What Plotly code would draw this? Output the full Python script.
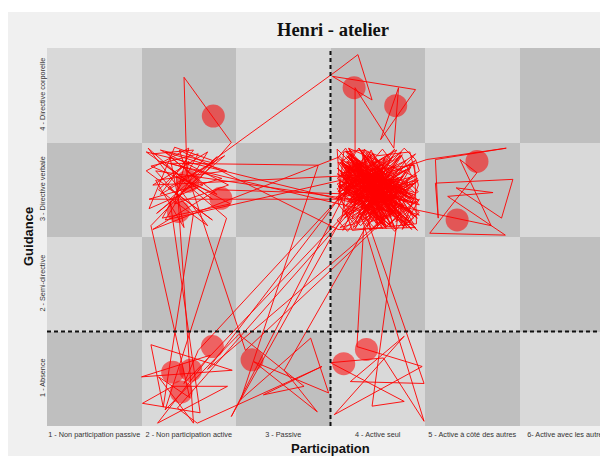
import plotly.graph_objects as go

# ---------------- data ----------------
x_labels = ["1 - Non participation passive", "2 - Non participation active", "3 - Passive",
            "4 - Active seul", "5 - Active à côté des autres", "6- Active avec les autres"]
y_labels = ["1 - Absence", "2 - Semi-directive", "3 - Directive verbale", "4 - Directive corporelle"]
x_vals = [1, 2, 3, 4, 5, 6]
y_vals = [1, 2, 3, 4]
board = [[1, 0, 1, 0, 1, 0],
         [0, 1, 0, 1, 0, 1],
         [1, 0, 1, 0, 1, 0],
         [0, 1, 0, 1, 0, 1]]

# trajectory segments (participation, guidance with jitter)
seg_a_x = [1.62,2.05,1.70,2.28,1.85,1.58,2.15,1.75,2.40,1.65,1.95,1.80,2.30,1.60,2.10,1.72,2.44,1.90,1.57,2.20,1.68,2.00]
seg_a_y = [3.38,3.42,2.95,3.30,3.45,2.80,3.05,3.40,3.20,3.10,2.60,3.35,2.95,3.25,3.38,2.70,2.85,3.15,3.44,2.62,3.00,3.30]
seg_b_x = [1.98,1.95,2.45,2.10]
seg_b_y = [3.20,4.19,3.50,3.10]
seg_a2_x = [1.66,2.38,1.78,2.25,1.55,2.00,1.85,2.42,1.70,2.23]
seg_a2_y = [2.75,3.36,3.02,2.68,3.20,3.44,2.85,3.05,3.42,3.29]
seg_c_x = [3.58,3.79,3.94,3.52,4.40,4.03,4.22,4.17,3.76,3.76]
seg_c_y = [4.27,4.43,3.95,4.20,4.06,3.53,4.08,3.44,4.08,3.40]
blob1_x = [3.62,4.10,3.75,4.38,3.90,3.58,4.22,3.81,4.05,3.67,4.31,3.95,3.60,4.18,3.72,4.41,3.86,4.02,3.64,4.27,
           3.79,4.12,3.57,3.98,4.35,3.70,4.08,3.84,4.43,3.66,3.93,4.20,3.61,4.00,3.77,4.29,3.88,4.15,3.59,4.37,
           3.73,4.06,3.83,4.24,3.63,3.96,4.40,3.69,4.11,3.80,4.33,3.91,3.65,4.19,3.76,4.03,3.58,4.26,3.87,4.13]
blob1_y = [3.30,2.85,3.12,2.64,3.40,2.98,3.22,2.70,3.05,3.36,2.60,3.18,2.90,3.43,2.77,3.08,2.66,3.27,2.95,3.14,
           2.72,3.38,3.01,2.58,3.24,2.88,3.33,2.68,3.10,2.93,3.42,2.80,3.17,2.62,3.29,2.99,3.35,2.74,3.06,2.86,
           3.20,2.63,3.39,2.96,3.13,2.75,3.31,2.89,3.02,3.44,2.69,3.15,2.82,3.26,2.59,3.09,2.92,3.37,2.78,3.19]
seg_e_x = [4.52,5.36,4.61,4.64,4.61,5.43,5.31,4.83,5.22,4.74,5.35,4.55,5.05,4.87,5.20]
seg_e_y = [3.32,3.44,3.32,2.70,3.07,3.11,2.70,3.02,2.97,2.93,2.52,2.54,3.18,3.32,2.62]
blob2_x = [3.68,4.36,3.94,3.71,4.21,3.82,4.44,3.60,4.07,3.89,4.30,3.74,4.16,3.63,3.99,4.39,3.78,4.09,3.66,4.25,
           3.85,4.01,3.57,4.34,3.92,3.70,4.17,3.80,4.42,3.61,4.04,3.87,4.28,3.69,3.97,4.14,3.75,4.32,3.62,4.08,
           3.90,4.23,3.67,4.40,3.79,4.02,3.59,4.19,3.86,4.35,3.72,4.11,3.64,3.95,4.27,3.81,4.06,3.58,4.38,3.93]
blob2_y = [2.94,3.28,2.67,3.11,2.84,3.41,2.73,3.03,3.34,2.61,3.21,2.87,3.07,2.57,3.32,2.97,3.16,2.71,3.25,3.00,
           3.37,2.79,3.23,2.65,3.04,3.43,2.83,3.12,2.70,3.30,2.91,3.18,2.60,3.35,2.99,2.76,3.27,2.88,3.09,2.66,
           3.14,2.97,3.40,2.72,3.19,2.85,3.06,2.58,3.33,2.94,3.22,2.68,3.11,3.38,2.81,3.02,2.62,3.29,2.90,3.16]
seg_f_x = [1.62,2.20,1.75,4.05,3.70,1.58,2.35,1.80,3.37,2.55,3.29,3.48,2.69,3.36,3.01,4.10,3.85,3.78,4.47,3.54,4.28,3.71,4.49,3.90]
seg_f_y = [3.05,3.40,2.68,3.20,2.90,2.90,3.12,3.28,3.26,0.78,1.43,0.85,1.18,0.65,1.09,3.00,2.60,1.34,1.13,0.62,1.45,0.97,0.95,2.65]
blob3_x = [4.15,3.73,4.29,3.84,4.00,3.62,4.41,3.77,4.13,3.68,4.24,3.91,4.36,3.60,4.05,3.83,4.20,3.70,3.98,4.33,
           3.64,4.09,3.88,4.43,3.75,4.18,3.57,3.96,4.31,3.80,4.03,3.66,4.26,3.89,4.12,3.71,4.39,3.94,3.61,4.21,
           3.85,4.37,3.69,4.07,3.78,4.30,3.63,4.16,3.92,4.42,3.74,4.01,3.59,4.25,3.87,4.10,3.67,4.34,3.82,3.99]
blob3_y = [2.75,3.26,2.93,3.42,2.64,3.08,2.86,3.31,2.98,2.69,3.36,3.03,2.77,3.20,2.59,3.13,2.92,3.39,2.83,3.05,
           3.24,2.61,3.10,2.89,3.34,2.71,3.17,2.95,2.63,3.28,2.84,3.41,3.00,2.74,3.23,2.87,3.07,2.57,3.32,2.96,
           2.80,3.15,3.44,2.67,3.01,3.21,2.76,3.36,2.90,3.12,2.60,3.25,2.97,3.40,2.73,3.08,3.30,2.65,3.18,2.86]
seg_g_x = [1.65,2.05,1.73,1.60,2.46,1.50,2.23,1.67,2.41,1.83,1.51,2.12,1.80,2.30,1.60,2.01,1.68,2.05,1.87,2.40,1.75,2.53,3.22,2.79,3.41,2.09,1.88,4.00]
seg_g_y = [3.20,2.75,0.70,1.36,1.09,1.02,1.25,0.53,0.92,0.92,0.74,0.64,2.90,3.35,2.62,0.80,1.02,0.53,3.15,2.70,0.67,1.47,0.92,0.83,1.13,0.53,0.69,3.10]
blob4_x = [4.22,3.65,4.04,3.76,4.40,3.90,3.58,4.14,3.81,4.28,3.70,4.06,3.93,4.36,3.62,4.19,3.86,3.73,4.32,3.97,
           4.11,3.68,4.26,3.84,4.02,3.60,4.38,3.79,4.17,3.91,4.44,3.72,4.08,3.63,4.23,3.95,3.77,4.30,3.66,4.13,
           3.88,4.35,3.71,4.00,3.57,4.20,3.83,4.41,3.74,4.05,3.64,4.29,3.96,4.15,3.69,4.33,3.80,4.09,3.61,4.24]
blob4_y = [3.11,2.70,3.27,2.94,3.38,2.82,3.04,2.62,3.19,2.99,3.33,2.78,3.14,2.58,3.26,2.91,3.43,2.69,3.07,3.22,
           2.88,3.35,2.66,3.16,2.79,3.29,2.95,3.09,2.61,3.39,2.84,3.02,3.24,2.72,3.13,2.93,2.64,3.31,3.00,2.77,
           3.20,2.90,3.37,2.68,3.06,3.42,2.81,3.15,2.97,2.63,3.28,2.87,3.10,3.34,2.74,3.01,3.23,2.59,3.17,2.92]
seg_h_x = [3.94,4.28,3.50,4.06,4.49,3.80,1.70,2.25,1.55,4.20,3.95,2.10,1.95,3.85,2.30,1.62,3.60,4.40,3.58,1.90,2.60,4.25,2.20,3.70,2.45,3.62]
seg_h_y = [0.71,0.76,1.17,1.22,0.55,2.80,3.30,2.90,3.40,2.75,3.30,1.30,0.95,2.95,3.00,2.58,3.35,2.60,2.58,3.42,1.30,2.85,1.10,3.05,0.60,2.70]
blob5_x = [3.70,3.78,3.66,3.84,3.74,3.92,3.81,3.69,3.88,3.97,4.06,3.99,4.14,4.05,4.21,4.12,4.28,4.19,4.33,4.24,
           4.38,4.27,4.16,4.31,4.20,4.09,4.25,4.13,4.02,4.17,3.95,3.86,4.01,3.79,3.90,3.72,3.83,3.65,3.77,3.60]
blob5_y = [3.25,3.12,3.02,3.18,3.35,3.08,2.96,3.22,3.30,3.14,3.01,2.88,2.95,2.79,2.90,2.72,2.84,2.66,2.78,2.92,
           2.70,2.62,2.81,2.97,2.68,2.86,2.75,2.64,2.91,3.04,2.87,3.10,2.98,2.83,3.20,3.06,2.94,3.15,3.28,3.00]
blob6_x = [3.57,3.70,3.80,3.92,4.05,4.15,4.28,4.40,4.44,4.30,4.43,4.28,4.44,4.32,4.42,4.30,4.18,4.05,3.92,3.80,
           3.68,3.57,3.70,3.56,3.72,3.57,3.71,3.58,3.66,3.80,3.95,4.10,4.25,4.36,4.20,4.38,4.22,4.08,3.95,3.82,
           3.66,3.78,3.62,3.80,3.68,3.90,4.02,4.15,4.30,4.12,3.98,3.85,3.60,3.75,3.58,3.64,3.86,4.00,4.34,4.43,
           4.26,4.44,4.10,3.59,3.73,4.41,4.39,3.62]
blob6_y = [3.43,3.30,3.44,3.28,3.43,3.30,3.44,3.32,3.20,3.10,2.98,2.88,2.76,2.66,2.57,2.70,2.56,2.70,2.57,2.72,
           2.56,2.68,2.80,2.92,3.02,3.12,3.22,3.34,3.44,3.20,3.38,3.18,3.36,3.14,3.00,2.86,2.74,2.60,2.78,2.62,
           2.78,2.92,3.05,3.10,3.30,3.22,3.05,2.90,2.95,3.10,2.92,2.80,2.60,2.64,2.85,3.40,3.42,3.36,3.40,3.05,
           2.58,2.90,2.62,2.98,2.57,2.64,3.26,3.18]

# highlighted moments (circles)
circle_x = [2.26,3.75,4.19,1.99,2.34,1.89,5.05,4.84,3.76,4.08,2.25,1.83,2.02,1.92,2.67,3.88,3.64]
circle_y = [3.78,4.08,3.89,3.09,2.91,2.77,3.30,2.68,3.16,2.81,1.34,1.07,1.09,0.86,1.20,1.31,1.16]

path_x = (seg_a_x + seg_b_x + seg_a2_x + seg_c_x + blob1_x + seg_e_x + blob2_x
          + seg_f_x + blob3_x + seg_g_x + blob4_x + seg_h_x + blob5_x + blob6_x)
path_y = (seg_a_y + seg_b_y + seg_a2_y + seg_c_y + blob1_y + seg_e_y + blob2_y
          + seg_f_y + blob3_y + seg_g_y + blob4_y + seg_h_y + blob5_y + blob6_y)

# ---------------- figure ----------------
# figure coordinates (page is offset by the 8px body margin)
L, T, W_PLOT, H_PLOT = 39, 40, 567, 378
FIG_W, FIG_H = 608, 456
def px(xp):
    return (xp - L) / W_PLOT
def py(yp):
    return (T + H_PLOT - yp) / H_PLOT

fig = go.Figure()
fig.add_trace(go.Heatmap(x=x_vals, y=y_vals, z=board, zmin=0, zmax=1,
                         colorscale=[[0, "#d9d9d9"], [1, "#bfbfbf"]],
                         showscale=False, hoverinfo="skip"))
fig.add_trace(go.Scatter(x=path_x, y=path_y, mode="lines",
                         line=dict(color="rgba(255,0,0,0.9)", width=1),
                         hoverinfo="skip", showlegend=False))
fig.add_trace(go.Scatter(x=circle_x, y=circle_y, mode="markers",
                         marker=dict(size=23, color="rgba(255,0,0,0.55)", line=dict(width=0)),
                         hoverinfo="skip", showlegend=False))

# white strip at the very top of the figure
fig.add_shape(type="rect", xref="paper", yref="paper", x0=px(-5), x1=px(FIG_W + 5), y0=py(4), y1=py(-5),
              fillcolor="white", line=dict(width=0), layer="below")
fig.add_shape(type="line", xref="x", yref="y", x0=3.5, x1=3.5, y0=0.5, y1=4.5,
              line=dict(color="#111111", width=2, dash="4px,3px"), layer="above")
fig.add_shape(type="line", xref="x", yref="y", x0=0.5, x1=6.5, y0=1.5, y1=1.5,
              line=dict(color="#111111", width=2, dash="4px,3px"), layer="above")

fig.add_annotation(text="<b>Henri - atelier</b>", xref="paper", yref="paper", x=px(325), y=py(22),
                   showarrow=False, font=dict(family="Liberation Serif", size=18.5, color="#111111"),
                   xanchor="center", yanchor="middle")
fig.add_annotation(text="<b>Participation</b>", xref="paper", yref="paper", x=px(322.5), y=py(440),
                   showarrow=False, font=dict(family="Liberation Sans", size=13, color="#111111"),
                   xanchor="center", yanchor="middle")
fig.add_annotation(text="<b>Guidance</b>", xref="paper", yref="paper", x=px(20), y=py(229),
                   showarrow=False, textangle=-90,
                   font=dict(family="Liberation Sans", size=13, color="#111111"),
                   xanchor="center", yanchor="middle")

tick_font = dict(family="Liberation Sans", size=7.3, color="#333333")
fig.update_xaxes(range=[0.5, 6.5], tickvals=x_vals, ticktext=x_labels, showgrid=False,
                 zeroline=False, showline=False, ticks="", tickfont=tick_font, automargin=False,
                 ticklabelstandoff=3, fixedrange=True)
fig.update_yaxes(range=[0.5, 4.5], tickvals=y_vals, ticktext=y_labels, showgrid=False,
                 zeroline=False, showline=False, ticks="", tickangle=-90, tickfont=tick_font,
                 automargin=False, fixedrange=True)
fig.update_layout(width=FIG_W, height=FIG_H,
                  margin=dict(l=L, r=FIG_W - L - W_PLOT, t=T, b=FIG_H - T - H_PLOT, pad=0, autoexpand=False),
                  paper_bgcolor="#f0f0f0", plot_bgcolor="#d9d9d9", showlegend=False)

fig.write_html("out.html")
